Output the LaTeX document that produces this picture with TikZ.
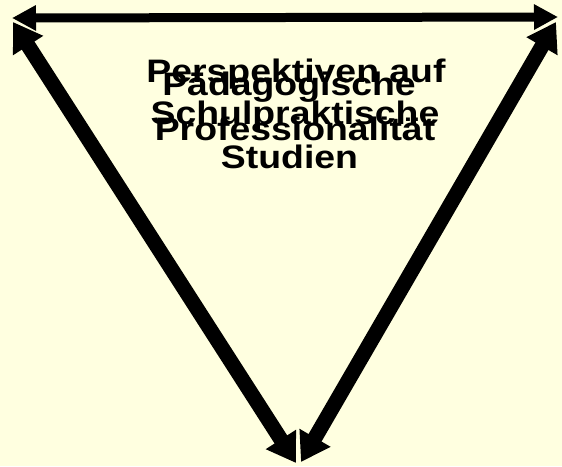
\documentclass[tikz,border=0pt]{standalone}
\usepackage{fontspec}
\usepackage{graphicx}
\setmainfont{Liberation Sans}
\usetikzlibrary{arrows.meta}
\definecolor{bgcol}{RGB}{255,255,224}
\tikzset{
  toparrow/.style={line width=9pt, {Triangle[length=24pt,width=24pt]}-{Triangle[length=24pt,width=24pt]}},
  diagarrow/.style={line width=15pt, {Triangle[length=28pt,width=34pt]}-{Triangle[length=28pt,width=34pt]}},
  lbl/.style={inner sep=0pt, anchor=base, font=\bfseries\fontsize{32.5}{38}\selectfont}
}
\newcommand{\wide}[1]{\scalebox{1.15}[1]{#1}}
\begin{document}
\begin{tikzpicture}[x=1pt,y=-1pt]
\fill[bgcol] (0,0) rectangle (562,466);
\useasboundingbox (0,0) rectangle (562,466);
\coordinate (ta) at (12,18);
\coordinate (tb) at (558,17);
\coordinate (la) at (13,22);
\coordinate (lb) at (296,463);
\coordinate (ra) at (556,22);
\coordinate (rb) at (301,462);
\draw[toparrow] (ta) -- (tb);
\draw[diagarrow] (la) -- (lb);
\draw[diagarrow] (ra) -- (rb);
\node[lbl] (p1) at (296,82) {\wide{Perspektiven auf}};
\node[lbl] (p2) at (295,140) {\wide{Professionalität}};
\node[lbl] (s1) at (289,95) {\wide{Pädagogische}};
\node[lbl] (s2) at (295,124.5) {\wide{Schulpraktische}};
\node[lbl] (s3) at (289.5,168) {\wide{Studien}};
\end{tikzpicture}
\end{document}
